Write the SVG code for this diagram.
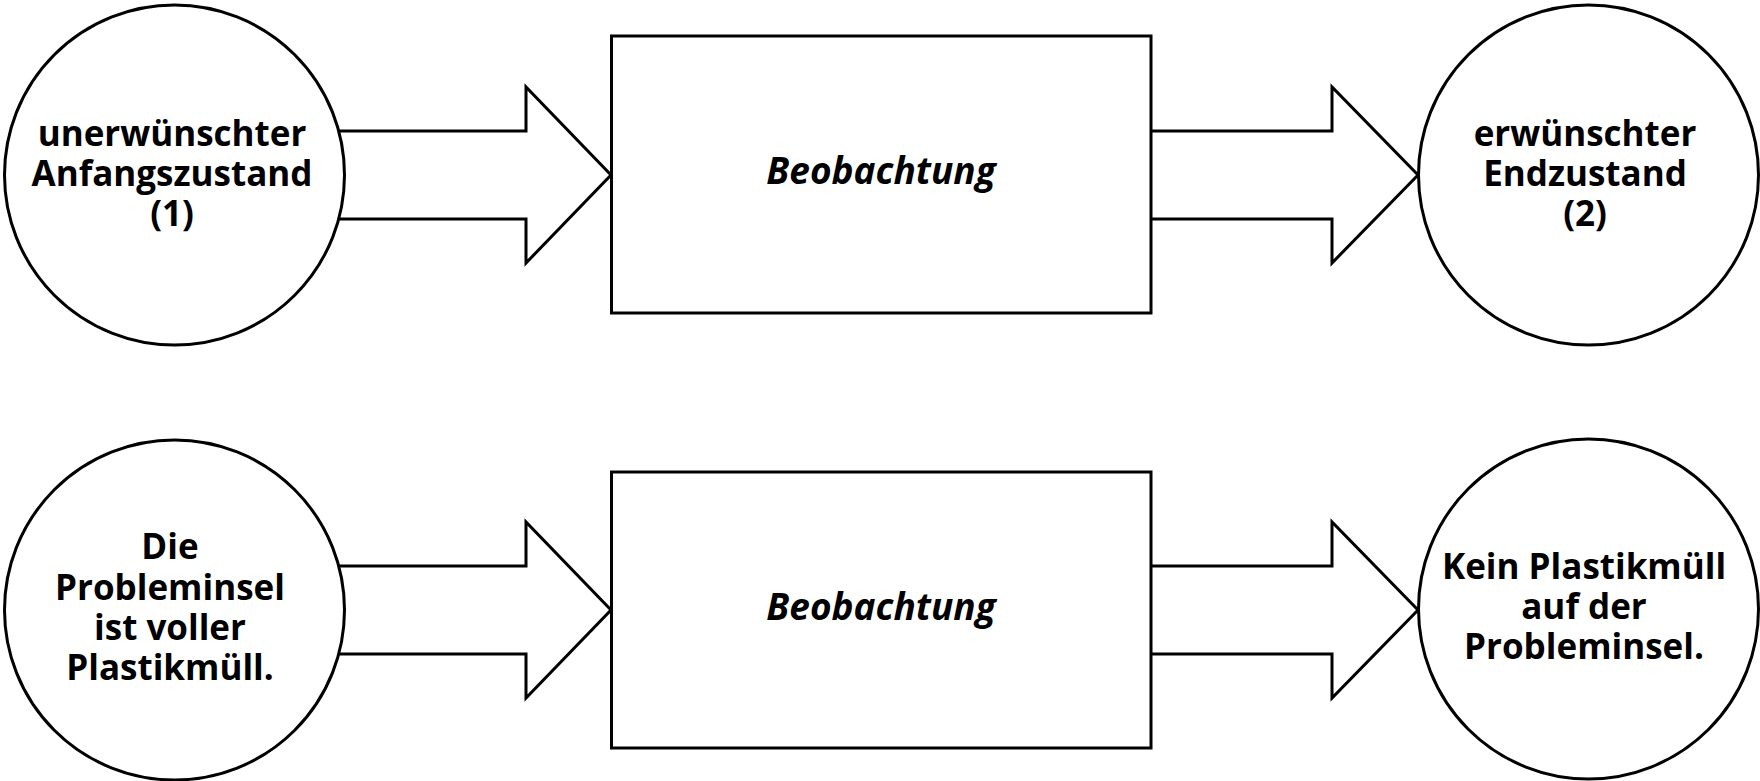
<svg xmlns="http://www.w3.org/2000/svg" width="1760" height="781" viewBox="0 0 1760 781">
<style>
.shape{fill:#fff;stroke:#000;stroke-width:3}
.lbl{font-family:"Open Sans","Liberation Sans",sans-serif;font-weight:bold;font-size:35px;fill:#000;text-anchor:middle}
.it{font-style:italic;font-size:37px}
</style>
<rect width="1760" height="781" fill="#fff"/>
<g id="connectors">
<polygon class="shape" points="320,131 526,131 526,87 611,175 526,263 526,219 320,219"/>
<polygon class="shape" points="1140,131 1332,131 1332,87 1418,175 1332,263 1332,219 1140,219"/>
<polygon class="shape" points="320,566 526,566 526,522 611,610 526,698 526,654 320,654"/>
<polygon class="shape" points="1140,566 1332,566 1332,522 1418,610 1332,698 1332,654 1140,654"/>
</g>
<g id="start1">
<circle class="shape" cx="174.5" cy="175" r="170"/>
<text class="lbl" x="172" y="146">unerwünschter</text>
<text class="lbl" x="172" y="186">Anfangszustand</text>
<text class="lbl" x="172" y="226">(1)</text>
</g>
<g id="process1">
<rect class="shape" x="611.5" y="36" width="539.5" height="277"/>
<text class="lbl it" x="881" y="184">Beobachtung</text>
</g>
<g id="end1">
<circle class="shape" cx="1588.5" cy="175" r="170"/>
<text class="lbl" x="1585" y="146">erwünschter</text>
<text class="lbl" x="1585" y="186">Endzustand</text>
<text class="lbl" x="1585" y="226">(2)</text>
</g>
<g id="start2">
<circle class="shape" cx="174.5" cy="610" r="170"/>
<text class="lbl" x="170" y="559">Die</text>
<text class="lbl" x="170" y="600">Probleminsel</text>
<text class="lbl" x="170" y="640">ist voller</text>
<text class="lbl" x="170" y="680">Plastikmüll.</text>
</g>
<g id="process2">
<rect class="shape" x="611.5" y="472" width="539.5" height="276"/>
<text class="lbl it" x="881" y="620">Beobachtung</text>
</g>
<g id="end2">
<circle class="shape" cx="1588.5" cy="609" r="170"/>
<text class="lbl" x="1584" y="579">Kein Plastikmüll</text>
<text class="lbl" x="1584" y="619">auf der</text>
<text class="lbl" x="1584" y="659">Probleminsel.</text>
</g>
</svg>
